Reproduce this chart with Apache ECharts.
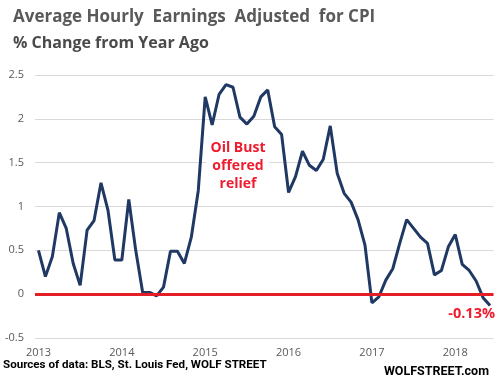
<!DOCTYPE html>
<html>
<head>
<meta charset="utf-8">
<script src="https://cdn.jsdelivr.net/npm/echarts/dist/echarts.min.js"></script>
<style>html,body{margin:0;padding:0;background:#fff}#c{width:497px;height:389px}</style>
</head>
<body>
<div id="c"></div>
<script>
// Data: monthly, Jan 2013 .. Jun 2018
var years = ['2013', '2014', '2015', '2016', '2017', '2018'];
var monthsPerYear = ['01','02','03','04','05','06','07','08','09','10','11','12'];
var realEarnings = [
  0.50, 0.20, 0.43, 0.93, 0.75, 0.35, 0.10, 0.73, 0.84, 1.27, 0.96, 0.39,
  0.39, 1.08, 0.50, 0.02, 0.02, -0.02, 0.08, 0.49, 0.49, 0.35, 0.65, 1.18,
  2.25, 1.93, 2.28, 2.39, 2.36, 2.02, 1.94, 2.03, 2.25, 2.33, 1.91, 1.82,
  1.16, 1.34, 1.63, 1.47, 1.41, 1.54, 1.92, 1.38, 1.15, 1.05, 0.85, 0.56,
  -0.10, -0.03, 0.16, 0.29, 0.58, 0.85, 0.75, 0.65, 0.58, 0.22, 0.27, 0.54,
  0.68, 0.34, 0.27, 0.15, -0.04, -0.13
];
var yTicks = { min: -0.5, max: 2.5, interval: 0.5 };
var titleText = 'Average Hourly  Earnings  Adjusted  for CPI';
var subtitleText = '% Change from Year Ago';
var sourceText = 'Sources of data: BLS, St. Louis Fed, WOLF STREET';
var brandText = 'WOLFSTREET.com';
var noteLines = ['Oil Bust', 'offered', 'relief'];
var lastLabel = '-0.13%';

var categories = [];
for (var y = 0; y < years.length; y++) {
  for (var m = 0; m < 12; m++) {
    if (categories.length < realEarnings.length) categories.push(years[y] + '-' + monthsPerYear[m]);
  }
}

var chart = echarts.init(document.getElementById('c'), null, { renderer: 'canvas' });
var font = '"Open Sans", "Noto Sans", sans-serif';
var font2 = 'Roboto, "Open Sans", sans-serif';
chart.setOption({
  animation: false,
  backgroundColor: '#ffffff',
  textStyle: { fontFamily: font },
  grid: { left: 35, right: 3.5, top: 75, bottom: 51, containLabel: false },
  xAxis: {
    type: 'category',
    data: categories,
    boundaryGap: true,
    axisLine: { show: false },
    axisTick: { show: false },
    axisLabel: {
      interval: 11,
      margin: 9,
      color: '#595959',
      fontSize: 11,
      fontFamily: font,
      formatter: function (v) { return v.slice(0, 4); }
    },
    splitLine: { show: false }
  },
  yAxis: {
    type: 'value',
    min: yTicks.min,
    max: yTicks.max,
    interval: yTicks.interval,
    axisLine: { show: false },
    axisTick: { show: false },
    axisLabel: { color: '#595959', fontSize: 11, margin: 11, fontFamily: font },
    splitLine: { lineStyle: { color: '#d9d9d9', width: 1 } }
  },
  series: [{
    type: 'line',
    data: realEarnings,
    showSymbol: false,
    symbol: 'none',
    lineStyle: { color: '#203864', width: 3 },
    markLine: {
      silent: true,
      symbol: 'none',
      label: { show: false },
      lineStyle: { color: '#e41e26', width: 3, type: 'solid' },
      data: [{ yAxis: 0 }]
    },
    z: 3
  }],
  graphic: [
    { type: 'text', left: 13, top: 9, style: { text: titleText, font: 'bold 17px ' + font, fill: '#595959' } },
    { type: 'text', left: 13, top: 35, style: { text: subtitleText, font: 'bold 16px ' + font, fill: '#4a4a4a' } },
    { type: 'text', left: 3, top: 359, style: { text: sourceText, font: 'bold 11.6px ' + font2, fill: '#000000' } },
    { type: 'text', right: 8, top: 365, style: { text: brandText, font: 'bold 12.5px ' + font2, fill: '#000000' } },
    { type: 'text', z: 10, style: { x: 238, y: 139, text: noteLines.join('\n'), font: 'bold 14px ' + font, fill: '#ee1c2e', align: 'center', verticalAlign: 'top', lineHeight: 18, backgroundColor: '#ffffff', padding: [0, 4, 0, 4] } },
    { type: 'text', right: 2, top: 306, style: { text: lastLabel, font: 'bold 14.5px ' + font, fill: '#ee1c2e' } }
  ]
});
</script>
</body>
</html>
